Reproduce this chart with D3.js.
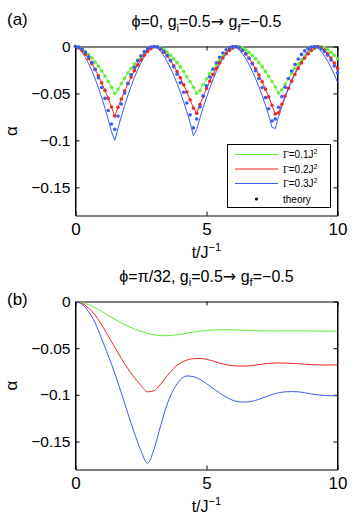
<!DOCTYPE html>
<html>
<head>
<meta charset="utf-8">
<script src="https://cdn.jsdelivr.net/npm/d3@7"></script>
<style>
  body { margin: 0; background: #fff; }
  svg { display: block; font-family: "Liberation Sans", Arial, sans-serif; }
</style>
</head>
<body>
<svg id="chart" width="354" height="522"></svg>
<script>
// sampling grids (t in units of 1/J)
const tA = d3.range(81).map(i => i * 0.125);
const tB = d3.range(41).map(i => i * 0.25);

// panel (a): phi=0, lines = simulation, dots = theory (green/red coincide)
const greenA = [0, -0.0009, -0.0028, -0.0054, -0.0086, -0.0123, -0.0165, -0.0211, -0.0261, -0.0315,
  -0.0373, -0.0434, -0.0499, -0.0456, -0.0395, -0.0338, -0.0283, -0.0233, -0.0186, -0.0143,
  -0.0105, -0.0071, -0.0043, -0.0020, -0.0004, -0.0002, -0.0015, -0.0035, -0.0062, -0.0094,
  -0.0131, -0.0172, -0.0217, -0.0266, -0.0319, -0.0375, -0.0434, -0.0497, -0.0468, -0.0405,
  -0.0346, -0.0290, -0.0238, -0.0190, -0.0146, -0.0107, -0.0072, -0.0043, -0.0020, -0.0004,
  -0.0002, -0.0015, -0.0036, -0.0063, -0.0094, -0.0131, -0.0172, -0.0217, -0.0265, -0.0318,
  -0.0373, -0.0432, -0.0495, -0.0461, -0.0399, -0.0341, -0.0286, -0.0235, -0.0188, -0.0145,
  -0.0106, -0.0072, -0.0043, -0.0020, -0.0004, -0.0002, -0.0014, -0.0035, -0.0062, -0.0094,
  -0.0131];
const redA = [0, -0.0014, -0.0042, -0.0081, -0.0128, -0.0183, -0.0244, -0.0313, -0.0387, -0.0467,
  -0.0553, -0.0644, -0.0740, -0.0647, -0.0559, -0.0475, -0.0397, -0.0324, -0.0257, -0.0196,
  -0.0141, -0.0094, -0.0054, -0.0023, -0.0003, -0.0006, -0.0028, -0.0060, -0.0101, -0.0150,
  -0.0205, -0.0266, -0.0334, -0.0407, -0.0485, -0.0568, -0.0656, -0.0711, -0.0617, -0.0531,
  -0.0448, -0.0371, -0.0299, -0.0233, -0.0174, -0.0122, -0.0076, -0.0039, -0.0013, 0,
  -0.0014, -0.0042, -0.0079, -0.0125, -0.0178, -0.0238, -0.0304, -0.0376, -0.0454, -0.0537,
  -0.0625, -0.0718, -0.0707, -0.0615, -0.0528, -0.0446, -0.0369, -0.0298, -0.0233, -0.0174,
  -0.0122, -0.0077, -0.0040, -0.0013, 0, -0.0013, -0.0040, -0.0078, -0.0123, -0.0175,
  -0.0235];
const blueDotsA = [0, -0.0007, -0.0027, -0.0061, -0.0109, -0.0170, -0.0245, -0.0334, -0.0436, -0.0552,
  -0.0682, -0.0825, -0.0882, -0.0741, -0.0613, -0.0496, -0.0392, -0.0300, -0.0221, -0.0153,
  -0.0098, -0.0055, -0.0025, -0.0006, 0, -0.0006, -0.0024, -0.0054, -0.0096, -0.0150,
  -0.0217, -0.0295, -0.0385, -0.0488, -0.0602, -0.0728, -0.0867, -0.0772, -0.0643, -0.0525,
  -0.0419, -0.0325, -0.0243, -0.0173, -0.0115, -0.0069, -0.0034, -0.0012, -0.0001, -0.0002,
  -0.0015, -0.0040, -0.0077, -0.0125, -0.0185, -0.0257, -0.0341, -0.0437, -0.0544, -0.0663,
  -0.0794, -0.0771, -0.0647, -0.0534, -0.0433, -0.0341, -0.0261, -0.0191, -0.0133, -0.0084,
  -0.0047, -0.0021, -0.0005, 0, -0.0006, -0.0024, -0.0052, -0.0093, -0.0144, -0.0207,
  -0.0281];
const blueLineA = [0, -0.0020, -0.0060, -0.0114, -0.0180, -0.0257, -0.0344, -0.0440, -0.0545, -0.0658,
  -0.0779, -0.0907, -0.0999, -0.0869, -0.0746, -0.0630, -0.0522, -0.0422, -0.0330, -0.0246,
  -0.0173, -0.0109, -0.0057, -0.0019, 0, -0.0017, -0.0053, -0.0101, -0.0161, -0.0229,
  -0.0307, -0.0393, -0.0486, -0.0587, -0.0695, -0.0809, -0.0950, -0.0884, -0.0764, -0.0650,
  -0.0543, -0.0443, -0.0351, -0.0268, -0.0193, -0.0128, -0.0073, -0.0031, -0.0004, -0.0007,
  -0.0036, -0.0078, -0.0130, -0.0192, -0.0263, -0.0343, -0.0429, -0.0523, -0.0624, -0.0731,
  -0.0860, -0.0875, -0.0747, -0.0641, -0.0541, -0.0448, -0.0361, -0.0282, -0.0210, -0.0147,
  -0.0092, -0.0048, -0.0015, 0, -0.0018, -0.0052, -0.0099, -0.0157, -0.0223, -0.0297,
  -0.0380];

// panel (b): phi=pi/32
const greenB = [0, -0.0010, -0.0035, -0.0068, -0.0105, -0.0150, -0.0190, -0.0230, -0.0265, -0.0295,
  -0.0320, -0.0342, -0.0357, -0.0365, -0.0367, -0.0362, -0.0352, -0.0340, -0.0328, -0.0318,
  -0.0311, -0.0306, -0.0303, -0.0302, -0.0303, -0.0306, -0.0309, -0.0312, -0.0314, -0.0315,
  -0.0316, -0.0316, -0.0315, -0.0315, -0.0315, -0.0316, -0.0316, -0.0317, -0.0317, -0.0317,
  -0.0317];
const redB = [0, -0.002, -0.007, -0.0145, -0.025, -0.037, -0.049, -0.061, -0.072, -0.0815,
  -0.090, -0.0968, -0.0955, -0.0885, -0.0795, -0.0715, -0.066, -0.0628, -0.0612, -0.061,
  -0.062, -0.0638, -0.066, -0.0677, -0.0688, -0.0692, -0.0692, -0.0686, -0.0676, -0.0666,
  -0.066, -0.0658, -0.066, -0.0663, -0.0667, -0.0672, -0.0676, -0.0679, -0.068, -0.068,
  -0.0679];
const blueB = [0, -0.003, -0.011, -0.023, -0.040, -0.058, -0.077, -0.098, -0.120, -0.141,
  -0.160, -0.1732, -0.158, -0.133, -0.110, -0.094, -0.084, -0.0798, -0.0805, -0.0835,
  -0.088, -0.093, -0.098, -0.1025, -0.1058, -0.1075, -0.1078, -0.1068, -0.1048, -0.1022,
  -0.0998, -0.0978, -0.0968, -0.0965, -0.0968, -0.0978, -0.099, -0.100, -0.1006, -0.101,
  -0.101];

const xTicks = [0, 5, 10];
const yTicks = [0, -0.05, -0.1, -0.15];
const gammaLabels = ['0.1', '0.2', '0.3'];

const col = { green: '#62ee36', red: '#ee2525', blue: '#3a5cf0' };

const svg = d3.select('#chart');
svg.append('rect').attr('width', 354).attr('height', 522).attr('fill', '#fff');

const x = d3.scaleLinear().domain([0, 10]).range([75.5, 337.5]);

function addText (g, x0, y0, parts, opt) {
  // parts: [text, shift, family] where shift is 'sub', 'sup' or null
  let t = g.append('text').attr('x', x0).attr('y', y0)
    .attr('font-size', opt.size).attr('text-anchor', opt.anchor || 'start').attr('fill', '#000');
  if (opt.transform) t.attr('transform', opt.transform);
  let cur = 0;
  parts.forEach(([s, shift, family]) => {
    let target = shift === 'sub' ? opt.size * 0.3 : shift === 'sup' ? -opt.size * 0.4 : 0;
    let sp = t.append('tspan').attr('dy', target - cur)
      .attr('font-size', shift ? opt.size * 0.7 : opt.size)
      .text(s);
    if (family) sp.attr('font-family', family);
    cur = target;
  });
  return t;
}

function drawPanel (top, bottom) {
  let y = d3.scaleLinear().domain([-0.18, 0]).range([bottom, top]);
  let g = svg.append('g');

  let styleAxis = sel => {
    sel.attr('font-size', null).attr('font-family', null);
    sel.selectAll('.domain').attr('stroke', '#000');
    sel.selectAll('.tick line').attr('stroke', '#000');
    sel.selectAll('text').attr('fill', '#000');
  };

  g.append('g').attr('transform', `translate(0,${bottom})`)
    .call(d3.axisBottom(x).tickValues(xTicks).tickSizeInner(-4).tickSizeOuter(0)
      .tickPadding(7).tickFormat(d3.format('d')))
    .call(styleAxis)
    .selectAll('text').attr('font-size', 17);
  g.append('g').attr('transform', `translate(0,${top})`)
    .call(d3.axisTop(x).tickValues(xTicks).tickSizeInner(-4).tickSizeOuter(0).tickFormat(() => ''))
    .call(styleAxis);
  g.append('g').attr('transform', 'translate(75.5,0)')
    .call(d3.axisLeft(y).tickValues(yTicks).tickSizeInner(-4).tickSizeOuter(0)
      .tickPadding(5).tickFormat(d3.format('')))
    .call(styleAxis)
    .selectAll('text').attr('font-size', 15.5);
  g.append('g').attr('transform', 'translate(337.5,0)')
    .call(d3.axisRight(y).tickValues(yTicks).tickSizeInner(-4).tickSizeOuter(0).tickFormat(() => ''))
    .call(styleAxis);
  // close the box where the axis domains stop at the last tick
  g.append('line').attr('x1', 75.5).attr('x2', 75.5).attr('y1', top).attr('y2', bottom).attr('stroke', '#000');
  g.append('line').attr('x1', 337.5).attr('x2', 337.5).attr('y1', top).attr('y2', bottom).attr('stroke', '#000');

  addText(g, 206.5, bottom + 42, [['t/J', null], ['\u22121', 'sup']], { size: 16, anchor: 'middle' });
  addText(g, 0, 0, [['\u03b1', null]],
    { size: 17, anchor: 'middle', transform: `translate(16.5,${(top + bottom) / 2}) rotate(-90)` });
  return y;
}

const arrowFont = 'DejaVu Sans';

// ---- panel (a)
let yA = drawPanel(46.5, 215.5);
addText(svg, 206.5, 27, [['\u03d5=0, g', null], ['i', 'sub'], ['=0.5', null], ['\u2192', null, arrowFont],
  [' g', null], ['f', 'sub'], ['=\u22120.5', null]],
  { size: 16, anchor: 'middle' });
addText(svg, 7, 25, [['(a)', null]], { size: 17 });

let lineA = d3.line().x((d, i) => x(tA[i])).y(d => yA(d));
let plotA = svg.append('g');
[[greenA, col.green], [redA, col.red], [blueLineA, col.blue]].forEach(([data, c]) => {
  plotA.append('path').datum(data).attr('d', lineA)
    .attr('fill', 'none').attr('stroke', c).attr('stroke-width', 1);
});
[[greenA, col.green], [redA, col.red], [blueDotsA, col.blue]].forEach(([data, c]) => {
  plotA.append('g').selectAll('circle').data(data).join('circle')
    .attr('cx', (d, i) => x(tA[i])).attr('cy', d => yA(d)).attr('r', 1.8).attr('fill', c);
});

// legend
let leg = svg.append('g');
leg.append('rect').attr('x', 227.5).attr('y', 144.5).attr('width', 103).attr('height', 63)
  .attr('fill', '#fff').attr('stroke', '#000');
[col.green, col.red, col.blue].forEach((c, i) => {
  let ly = 154.5 + i * 14.5;
  leg.append('line').attr('x1', 235).attr('x2', 278).attr('y1', ly).attr('y2', ly)
    .attr('stroke', c).attr('stroke-width', 1);
  addText(leg, 283, ly + 3.5, [['\u0393', null, 'Liberation Serif'], ['=' + gammaLabels[i] + 'J', null], ['2', 'sup']],
    { size: 10 });
});
leg.append('circle').attr('cx', 256.5).attr('cy', 199).attr('r', 1.6).attr('fill', '#000');
addText(leg, 283, 202.5, [['theory', null]], { size: 10 });

// ---- panel (b)
let yB = drawPanel(301.5, 469.5);
addText(svg, 206.5, 281.5, [['\u03d5=\u03c0/32, g', null], ['i', 'sub'], ['=0.5', null], ['\u2192', null, arrowFont],
  [' g', null], ['f', 'sub'], ['=\u22120.5', null]],
  { size: 16, anchor: 'middle' });
addText(svg, 7, 305, [['(b)', null]], { size: 17 });

let lineB = d3.line().x((d, i) => x(tB[i])).y(d => yB(d)).curve(d3.curveMonotoneX);
[[greenB, col.green], [redB, col.red], [blueB, col.blue]].forEach(([data, c]) => {
  svg.append('path').datum(data).attr('d', lineB)
    .attr('fill', 'none').attr('stroke', c).attr('stroke-width', 1);
});
</script>
</body>
</html>
